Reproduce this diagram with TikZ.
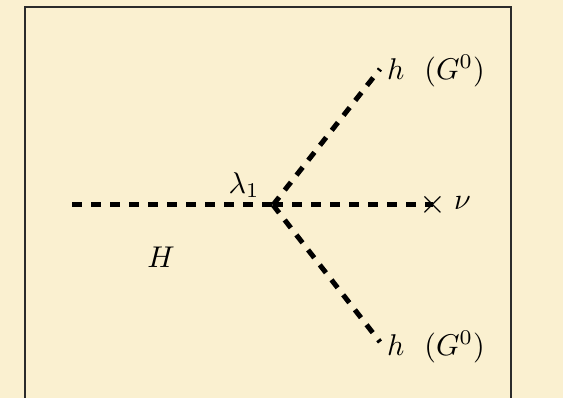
\documentclass[tikz,border=0pt]{standalone}
\usepackage{amsmath,amssymb}
\usepackage{xcolor}
\usepackage{tikz}
\usetikzlibrary{positioning,calc}
\definecolor{parchment}{HTML}{FAF0D0}
\definecolor{frameGray}{HTML}{2B2B2B}

\begin{document}
\begin{tikzpicture}[
    x=1pt,y=1pt,
    every node/.style={scale=3.0},
    scalar/.style={line width=5pt,dash pattern=on 10pt off 9pt,black},
    lab/.style={inner sep=0.5pt}
  ]
  \fill[parchment] (0,0) rectangle (563,398);
  \useasboundingbox (0,0) rectangle (563,398);
  \begin{scope}
    \clip (0,0) rectangle (563,398);
    \draw[frameGray,line width=1.6pt] (25,-20) rectangle (511,391);
  \end{scope}
  % vertex and external legs
  \coordinate (V) at (273,193);
  \coordinate (L) at (72,193);
  \coordinate (U) at (380,329);
  \coordinate (D) at (380,56);
  \node[inner sep=0pt,scale=1.15] (X) at (433,193) {$\times$};
  \draw[scalar] (L) -- (V);
  \draw[scalar] (V) -- (X.center);
  \draw[scalar] (V) -- (U);
  \draw[scalar] (V) -- (D);
  % labels
  \node[lab] (lam) at (244,213) {$\lambda_1$};
  \node[lab] (Hlab) at (161,141) {$H$};
  \node[lab,anchor=west] (nu) at (452,195) {$\nu$};
  \node[lab,anchor=west] (hU) at (385,327) {$h\ \ (G^0)$};
  \node[lab,anchor=west] (hD) at (385,51) {$h\ \ (G^0)$};
\end{tikzpicture}
\end{document}
